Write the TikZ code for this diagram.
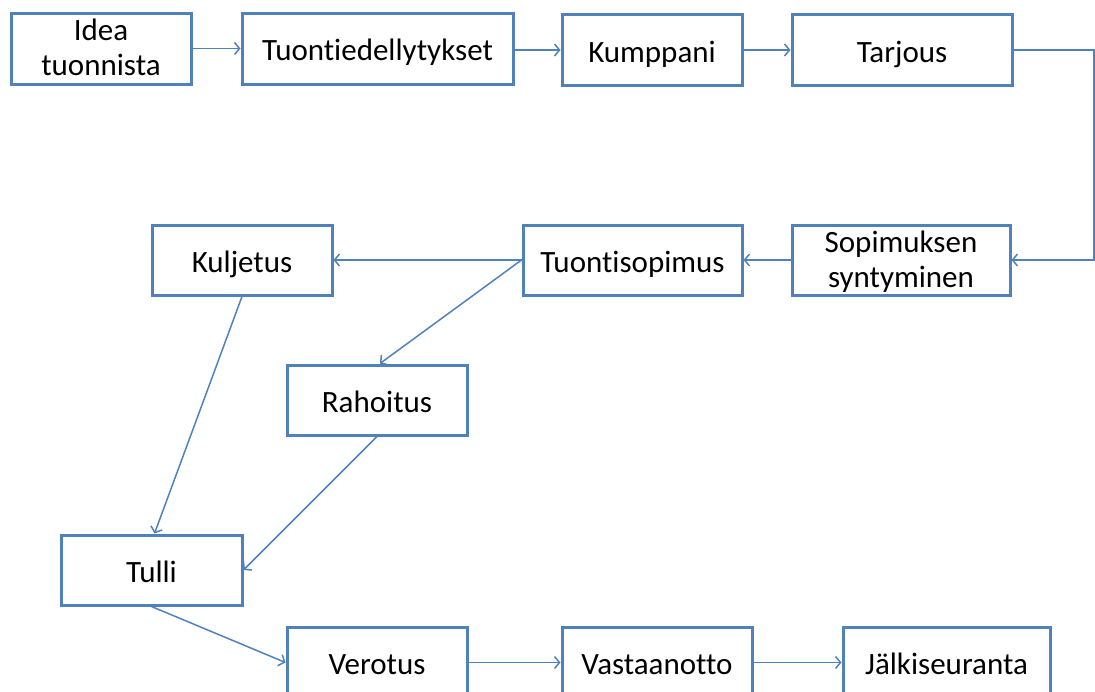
\documentclass[tikz,border=0pt]{standalone}
\usepackage{fontspec}
\setmainfont{Carlito}[Ligatures={NoCommon}]
\usetikzlibrary{arrows.meta}
\definecolor{boxblue}{HTML}{4F81BD}
\tikzset{
  stepbox/.style={draw=boxblue, line width=3pt, rectangle, inner sep=0pt,
    minimum height=71pt, align=center, text=black,
    text height=24pt, text depth=0pt,
    font=\fontsize{31}{35}\selectfont},
  twoline/.style={text height=54pt, text depth=0pt},
  arr/.style={draw=boxblue, line width=1.5pt,
    -{Straight Barb[length=5pt,width=12pt,line width=1.5pt]}}
}
\begin{document}
\begin{tikzpicture}[x=1pt,y=-1pt]
\useasboundingbox (0,0) rectangle (1095,691);
\clip (0,0) rectangle (1095,691);
\node[stepbox, twoline, minimum width=180pt] (idea) at (101,48.5) {Idea\\tuonnista};
\node[stepbox, minimum width=271pt] (ted) at (377.5,48.5) {Tuontiedellytykset};
\node[stepbox, minimum width=180pt] (kum) at (652,50) {Kumppani};
\node[stepbox, minimum width=220pt] (tar) at (902,50) {Tarjous};
\node[stepbox, twoline, minimum width=218pt, minimum height=70pt] (sop) at (901,260) {Sopimuksen\\syntyminen};
\node[stepbox, minimum width=219pt, minimum height=70pt] (tso) at (632.5,260) {Tuontisopimus};
\node[stepbox, minimum width=180pt, minimum height=70pt] (kul) at (242,260) {Kuljetus};
\node[stepbox, minimum width=180pt, minimum height=70pt] (rah) at (377,400) {Rahoitus};
\node[stepbox, minimum width=181pt, minimum height=70pt] (tul) at (151.5,570) {Tulli};
\node[stepbox, minimum width=180pt] (ver) at (377,662.5) {Verotus};
\node[stepbox, minimum width=190pt] (vas) at (657,662.5) {Vastaanotto};
\node[stepbox, minimum width=207pt] (jal) at (946.5,662.5) {Jälkiseuranta};
\coordinate (c1) at (1094,50);
\draw[arr] (idea) -- (ted);
\draw[arr] (ted.east |- kum) -- (kum);
\draw[arr] (kum) -- (tar);
\draw[arr] (tar.east) -- (c1) |- (sop.east);
\draw[arr] (sop) -- (tso);
\draw[arr] (tso.west) -- (kul.east);
\draw[arr] (tso.west) -- ([xshift=3pt]rah.north);
\draw[arr] (kul.south) -- ([xshift=3pt]tul.north);
\draw[arr] (rah.south) -- (tul.east);
\draw[arr] (tul.south) -- (ver.west);
\draw[arr] (ver) -- (vas);
\draw[arr] (vas) -- (jal);
\end{tikzpicture}
\end{document}
